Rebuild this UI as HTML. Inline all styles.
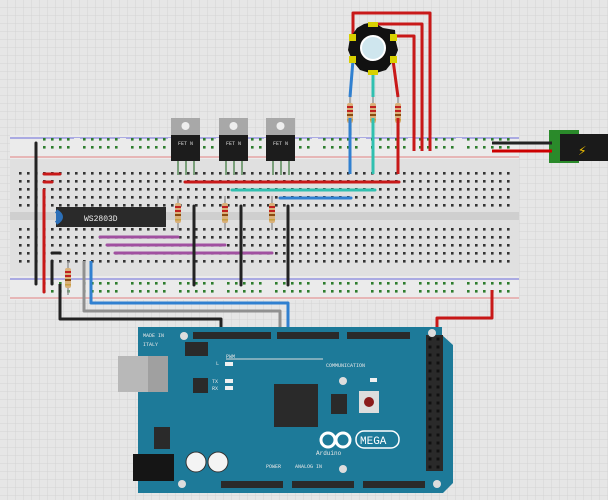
<!DOCTYPE html>
<html><head><style>
html,body{margin:0;padding:0;background:#e9e9e9;}
svg{display:block;font-family:"Liberation Mono",monospace;}
</style></head><body>
<svg width="608" height="500" viewBox="0 0 608 500" xmlns="http://www.w3.org/2000/svg">
<defs>
<pattern id="grid" width="8" height="8" patternUnits="userSpaceOnUse">
<rect width="8" height="8" fill="#e6e6e6"/>
<path d="M8 0V8M0 8H8" stroke="#d4d4d4" stroke-width="1"/>
</pattern>
<pattern id="holes" x="17" y="170" width="8" height="8" patternUnits="userSpaceOnUse">
<rect x="2" y="2" width="2.6" height="2.6" fill="#333"/>
</pattern>
<pattern id="rail" x="17" y="0" width="8" height="8" patternUnits="userSpaceOnUse">
<rect x="2" y="2" width="2.6" height="2.6" fill="#2d7d2d"/>
</pattern>
<pattern id="hdr" x="426" y="335" width="8" height="8" patternUnits="userSpaceOnUse">
<rect x="2.5" y="2.5" width="3" height="3" fill="#111"/>
</pattern>
</defs>
<rect width="608" height="500" fill="url(#grid)"/>

<!-- breadboard -->
<rect x="10" y="135" width="509" height="165" fill="#e0e0e0"/>
<rect x="10" y="135" width="509" height="24" fill="#ebebeb"/>
<rect x="10" y="276" width="509" height="24" fill="#ebebeb"/>
<line x1="10" y1="138" x2="519" y2="138" stroke="#6a6ad8" stroke-width="1"/>
<line x1="10" y1="157" x2="519" y2="157" stroke="#e08080" stroke-width="1"/>
<line x1="10" y1="279" x2="519" y2="279" stroke="#6a6ad8" stroke-width="1"/>
<line x1="10" y1="298" x2="519" y2="298" stroke="#e08080" stroke-width="1"/>
<rect x="10" y="212" width="509" height="8" fill="#cfcfcf"/>
<rect x="17" y="170" width="496" height="40" fill="url(#holes)"/>
<rect x="17" y="226" width="496" height="40" fill="url(#holes)"/>
<g fill="url(#rail)">
<rect x="41" y="138" width="472" height="16"/>
<rect x="41" y="280" width="472" height="16"/>
</g>
<g fill="#ebebeb">
<rect x="74" y="138" width="6" height="16"/><rect x="120" y="138" width="6" height="16"/><rect x="168" y="138" width="6" height="16"/><rect x="216" y="138" width="6" height="16"/><rect x="264" y="138" width="6" height="16"/><rect x="312" y="138" width="6" height="16"/><rect x="360" y="138" width="6" height="16"/><rect x="408" y="138" width="6" height="16"/><rect x="456" y="138" width="6" height="16"/>
<rect x="74" y="280" width="6" height="16"/><rect x="120" y="280" width="6" height="16"/><rect x="168" y="280" width="6" height="16"/><rect x="216" y="280" width="6" height="16"/><rect x="264" y="280" width="6" height="16"/><rect x="312" y="280" width="6" height="16"/><rect x="360" y="280" width="6" height="16"/><rect x="408" y="280" width="6" height="16"/><rect x="456" y="280" width="6" height="16"/>
</g>

<!-- power jack -->
<rect x="549" y="130" width="30" height="33" fill="#2a8a2a"/>
<rect x="560" y="134" width="48" height="27" fill="#1a1a1a"/>
<text x="578" y="155" font-size="14" fill="#f0c000">⚡</text>
<line x1="492" y1="143" x2="552" y2="143" stroke="#222" stroke-width="3"/>
<line x1="492" y1="151" x2="552" y2="151" stroke="#c00" stroke-width="3"/>

<!-- FETs -->
<g id="fet">
<rect x="171" y="118" width="29" height="18" fill="#a8a8a8"/>
<circle cx="185.5" cy="126" r="4" fill="#eee"/>
<rect x="171" y="135" width="29" height="26" fill="#1c1c1c"/>
<text x="178" y="145" font-size="5" fill="#ddd">FET N</text>
<g stroke="#7aa07a" stroke-width="2"><line x1="178" y1="161" x2="178" y2="175"/><line x1="186" y1="161" x2="186" y2="175"/><line x1="194" y1="161" x2="194" y2="175"/></g>
</g>
<use href="#fet" x="48"/>
<use href="#fet" x="95"/>

<g stroke-linecap="round" stroke-width="3">
<line x1="185" y1="182" x2="399" y2="182" stroke="#c81818"/>
<line x1="232" y1="190" x2="375" y2="190" stroke="#30c0b0"/>
<line x1="280" y1="198" x2="351" y2="198" stroke="#3080d0"/>
<line x1="100" y1="237" x2="178" y2="237" stroke="#a050a0"/>
<line x1="107" y1="245" x2="225" y2="245" stroke="#a050a0"/>
<line x1="115" y1="253" x2="272" y2="253" stroke="#a050a0"/>
<line x1="194" y1="206" x2="194" y2="285" stroke="#222"/>
<line x1="241" y1="206" x2="241" y2="285" stroke="#222"/>
<line x1="288" y1="206" x2="288" y2="285" stroke="#222"/>
<line x1="36" y1="143" x2="36" y2="284" stroke="#222"/>
<line x1="44" y1="190" x2="44" y2="292" stroke="#c81818"/>
<line x1="44" y1="174" x2="60" y2="174" stroke="#c81818"/>
<line x1="44" y1="182" x2="52" y2="182" stroke="#c81818"/>
<line x1="52" y1="253" x2="60" y2="253" stroke="#222"/>
<line x1="52" y1="261" x2="52" y2="284" stroke="#222"/>
</g>
<rect x="56" y="207" width="110" height="20" fill="#2a2a2a"/>
<path d="M56 211 Q66 217 56 223" fill="#2b6fb8" stroke="#2b6fb8" stroke-width="4"/>
<text x="84" y="221" font-size="8" fill="#eee">WS2803D</text>

<g id="res">
<line x1="178" y1="196" x2="178" y2="230" stroke="#999" stroke-width="1.5"/>
<rect x="175" y="203" width="6" height="20" rx="2" fill="#d9b07a"/>
<rect x="175" y="206" width="6" height="2" fill="#c02020"/>
<rect x="175" y="210" width="6" height="2" fill="#c02020"/>
<rect x="175" y="214" width="6" height="2" fill="#8a4a10"/>
<rect x="175" y="219" width="6" height="1.5" fill="#c8a040"/>
</g>
<use href="#res" x="47"/>
<use href="#res" x="94"/>
<use href="#res" x="-110" y="65"/>
<use href="#res" x="172" y="-100"/>
<use href="#res" x="195" y="-100"/>
<use href="#res" x="220" y="-100"/>

<g stroke-width="3" fill="none" stroke-linejoin="round">
<polyline points="353,37 353,13 430,13 430,151" stroke="#c81818"/>
<polyline points="373,24 422,24 422,151" stroke="#c81818"/>
<polyline points="393,36 414,36 414,151" stroke="#c81818"/>
<polyline points="353,60 350,97" stroke="#3080d0"/>
<polyline points="350,118 350,174" stroke="#3080d0"/>
<polyline points="373,70 373,97" stroke="#30c0b0"/>
<polyline points="373,118 373,174" stroke="#30c0b0"/>
<polyline points="393,60 398,97" stroke="#c81818"/>
<polyline points="398,118 398,174" stroke="#c81818"/>
</g>
<polygon points="373,22 383,28 395,30 396,42 398,50 394,60 386,70 373,74 360,70 352,60 348,50 350,38 357,28 364,24" fill="#111"/>
<g fill="#d8d000"><rect x="368" y="22" width="10" height="5"/><rect x="368" y="70" width="10" height="5"/><rect x="349" y="34" width="7" height="7"/><rect x="390" y="34" width="7" height="7"/><rect x="349" y="56" width="7" height="7"/><rect x="390" y="56" width="7" height="7"/></g>
<circle cx="373" cy="48" r="12" fill="#cfe6ee" stroke="#fff" stroke-width="2"/>

<g stroke-width="3" fill="none" stroke-linejoin="round">
<polyline points="60,284 60,319 221,319 221,333" stroke="#222"/>
<polyline points="84,261 84,311 280,311 280,335" stroke="#909090"/>
<polyline points="91,261 91,303 288,303 288,335" stroke="#3080d0"/>
<polyline points="492,290 492,318 437,318 437,333" stroke="#c81818"/>
</g>

<polygon points="138,327 442,327 442,335 453,345 453,483 443,493 138,493" fill="#1d7a99"/>
<rect x="118" y="356" width="50" height="36" fill="#b8b8b8"/>
<rect x="148" y="356" width="20" height="36" fill="#a0a0a0"/>
<rect x="133" y="454" width="41" height="27" fill="#151515"/>
<circle cx="196" cy="462" r="10" fill="#f4f4f4" stroke="#333"/>
<circle cx="218" cy="462" r="10" fill="#f4f4f4" stroke="#333"/>
<g fill="#2a2a2a">
<rect x="193" y="332" width="78" height="7"/>
<rect x="277" y="332" width="62" height="7"/>
<rect x="347" y="332" width="63" height="7"/>
<rect x="426" y="335" width="17" height="136"/>
<rect x="221" y="481" width="62" height="7"/>
<rect x="292" y="481" width="62" height="7"/>
<rect x="363" y="481" width="62" height="7"/>
<rect x="274" y="384" width="44" height="43"/>
<rect x="193" y="378" width="15" height="15"/>
<rect x="331" y="394" width="16" height="20"/>
<rect x="185" y="342" width="23" height="14"/>
<rect x="154" y="427" width="16" height="22"/>
</g>
<rect x="426" y="335" width="17" height="136" fill="url(#hdr)"/>
<rect x="359" y="391" width="20" height="22" fill="#ddd"/>
<circle cx="369" cy="402" r="5" fill="#8a1a1a"/>
<g fill="#ddd"><circle cx="184" cy="336" r="4"/><circle cx="343" cy="381" r="4"/><circle cx="432" cy="333" r="4"/><circle cx="182" cy="484" r="4"/><circle cx="343" cy="469" r="4"/><circle cx="437" cy="484" r="4"/></g>
<g fill="#f0f0f0"><rect x="225" y="362" width="8" height="4"/><rect x="225" y="379" width="8" height="4"/><rect x="225" y="386" width="8" height="4"/><rect x="370" y="378" width="7" height="4"/></g>
<g font-size="5" fill="#e8e8e8">
<text x="143" y="337">MADE IN</text>
<text x="143" y="346">ITALY</text>
<text x="226" y="358">PWM</text>
<text x="216" y="365">L</text>
<text x="212" y="383">TX</text>
<text x="212" y="390">RX</text>
<text x="326" y="367">COMMUNICATION</text>
<text x="266" y="468">POWER</text>
<text x="295" y="468">ANALOG IN</text>
<text x="316" y="455" font-size="6">Arduino</text>
</g>
<line x1="226" y1="359" x2="323" y2="359" stroke="#ddd"/>
<g fill="none" stroke="#fff" stroke-width="3"><circle cx="328" cy="440" r="7"/><circle cx="343" cy="440" r="7"/></g>
<rect x="356" y="431" width="43" height="17" rx="8" fill="none" stroke="#fff" stroke-width="1.5"/>
<text x="360" y="444" font-size="11" fill="#fff" font-family="Liberation Mono">MEGA</text>
</svg>
</body></html>
